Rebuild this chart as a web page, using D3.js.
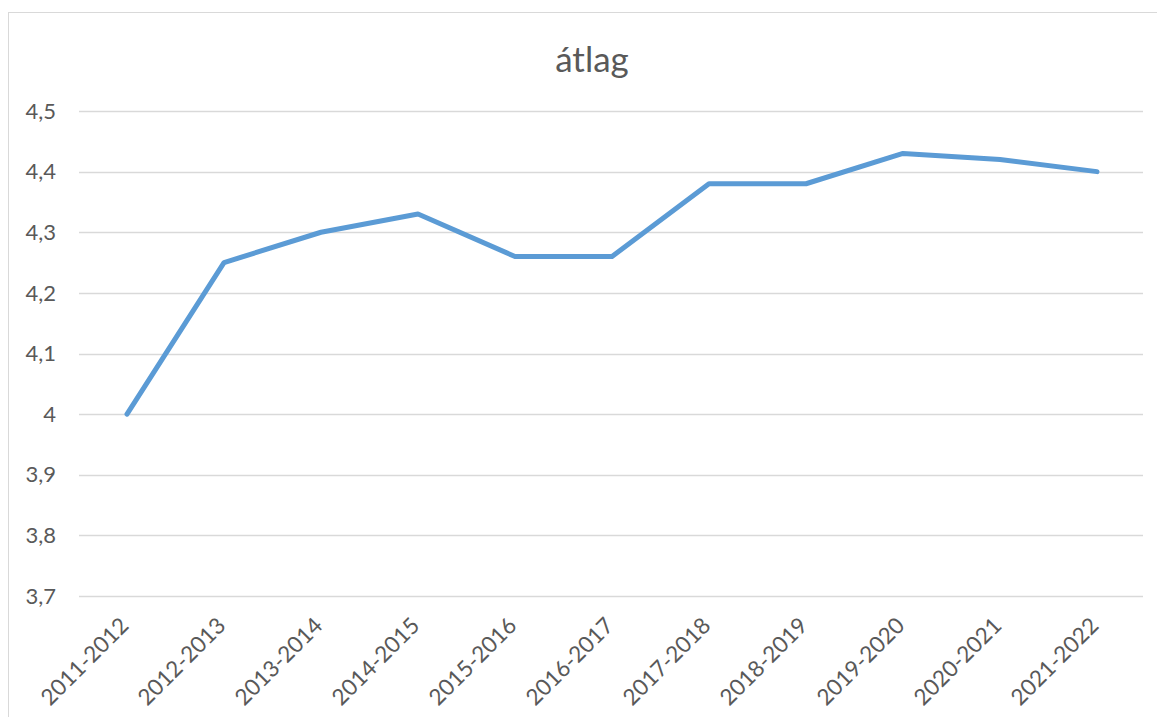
<!DOCTYPE html>
<html><head><meta charset="utf-8">
<script src="https://cdn.jsdelivr.net/npm/d3@7"></script>
<style>body{margin:0;background:#fff}svg{display:block}</style>
</head><body>
<script>
const categories = ["2011-2012","2012-2013","2013-2014","2014-2015","2015-2016","2016-2017","2017-2018","2018-2019","2019-2020","2020-2021","2021-2022"];
const values = [4.0,4.25,4.30,4.33,4.26,4.26,4.38,4.38,4.43,4.42,4.40];
const yTicks = [3.7,3.8,3.9,4.0,4.1,4.2,4.3,4.4,4.5];
const title = "átlag";

const W=1157,H=717;
const svg=d3.select("body").append("svg").attr("width",W).attr("height",H);
svg.append("rect").attr("x",8.5).attr("y",12.5).attr("width",W+10).attr("height",H+10)
  .attr("fill","#fff").attr("stroke","#d9d9d9").attr("stroke-width",1);
const font="Lato, 'Open Sans', sans-serif";
const x=d3.scalePoint().domain(categories).range([127,1097]);
const y=d3.scaleLinear().domain([3.7,4.5]).range([596,111]);

const g=svg.append("g");
g.selectAll("line.grid").data(yTicks).join("line").attr("class","grid")
 .attr("x1",79).attr("x2",1143).attr("y1",d=>Math.round(y(d))+0.5).attr("y2",d=>Math.round(y(d))+0.5)
 .attr("stroke","#d9d9d9").attr("stroke-width",1.5);

const fmt=d=>d3.format("")(+d.toFixed(1)).replace(".",",");
g.selectAll("text.yl").data(yTicks).join("text").attr("class","yl")
 .attr("x",56).attr("y",d=>y(d)).attr("dy","0.35em").attr("text-anchor","end")
 .attr("font-family",font).attr("font-size",22).attr("fill","#595959").text(fmt);

g.selectAll("text.xl").data(categories).join("text").attr("class","xl")
 .attr("transform",d=>`translate(${x(d)+3},${627}) rotate(-45)`)
 .attr("text-anchor","end").attr("font-family",font).attr("font-size",22.5).attr("fill","#595959").text(d=>d);

const line=d3.line().x((d,i)=>x(categories[i])).y(d=>y(d));
g.append("path").datum(values).attr("d",line).attr("fill","none")
 .attr("stroke","#5b9bd5").attr("stroke-width",5).attr("stroke-linejoin","round").attr("stroke-linecap","round");

svg.append("text").attr("x",592).attr("y",72).attr("text-anchor","middle")
 .attr("font-family",font).attr("font-size",35).attr("fill","#595959").text(title);
</script>
</body></html>
